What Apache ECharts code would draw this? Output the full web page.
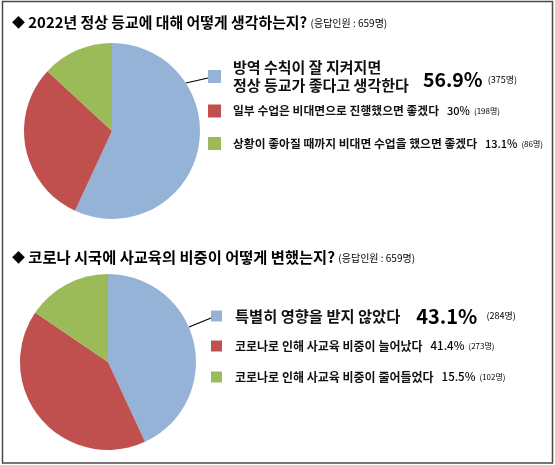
<!DOCTYPE html>
<html>
<head>
<meta charset="utf-8">
<script src="https://cdn.jsdelivr.net/npm/echarts@6/dist/echarts.min.js"></script>
<style>
  html, body { margin: 0; padding: 0; background: #fff; }
  #chart { width: 555px; height: 465px; }
</style>
</head>
<body>
<div id="chart"></div>
<script>
// ---- Data ----
const title1 = '2022년 정상 등교에 대해 어떻게 생각하는지?';
const title2 = '코로나 시국에 사교육의 비중이 어떻게 변했는지?';
const respondents = '(응답인원 : 659명)';

const categories1 = [
  '방역 수칙이 잘 지켜지면\n정상 등교가 좋다고 생각한다',
  '일부 수업은 비대면으로 진행했으면 좋겠다',
  '상황이 좋아질 때까지 비대면 수업을 했으면 좋겠다'
];
const percents1 = [56.9, 30, 13.1];
const counts1 = [375, 198, 86];

const categories2 = [
  '특별히 영향을 받지 않았다',
  '코로나로 인해 사교육 비중이 늘어났다',
  '코로나로 인해 사교육 비중이 줄어들었다'
];
const percents2 = [43.1, 41.4, 15.5];
const counts2 = [284, 273, 102];

const colors = ['#95B3D7', '#C0504D', '#9BBB59'];

// ---- Chart ----
const FONT = '"Noto Sans CJK KR", "Noto Sans", sans-serif';
const chart = echarts.init(document.getElementById('chart'), null, { renderer: 'canvas' });

function pieSeries(cats, vals, center) {
  return {
    type: 'pie',
    center: center,
    radius: 88,
    startAngle: 90,
    clockwise: true,
    silent: true,
    label: { show: false },
    labelLine: { show: false },
    itemStyle: { borderWidth: 0 },
    data: cats.map((c, i) => ({ name: c, value: vals[i], itemStyle: { color: colors[i] } }))
  };
}

function titleGraphic(text, y, size) {
  return {
    type: 'text', x: 12, y: y,
    style: {
      text: '{d|◆} {t|' + text + '} {s|' + respondents + '}',
      verticalAlign: 'middle',
      rich: {
        d: { fontFamily: FONT, fontSize: 13, fill: '#000' },
        t: { fontFamily: FONT, fontSize: size, fontWeight: 'bold', fill: '#000' },
        s: { fontFamily: FONT, fontSize: 10, fill: '#000', padding: [2, 0, 0, 0] }
      }
    }
  };
}

function legendGraphics(cats, pcts, cnts, cfg) {
  const g = [];
  cats.forEach((c, i) => {
    const yc = cfg.ys[i];
    g.push({
      type: 'rect',
      shape: { x: cfg.mx, y: yc - cfg.ms / 2, width: cfg.ms, height: cfg.ms },
      style: { fill: colors[i] }
    });
    const pct = pcts[i] + '%';
    const cnt = '(' + cnts[i] + '명)';
    if (i === 0 && cfg.firstTwoLine) {
      g.push({
        type: 'text', x: cfg.tx, y: yc,
        style: {
          text: c, fontFamily: FONT, fontSize: cfg.bigLabelSize, fontWeight: 'bold',
          fill: '#111', verticalAlign: 'middle', lineHeight: 18
        }
      });
      g.push({
        type: 'text', x: cfg.bigPctX, y: cfg.bigPctY,
        style: {
          text: '{p|' + pct + '}{c|' + cnt + '}',
          verticalAlign: 'middle',
          rich: {
            p: { fontFamily: FONT, fontSize: cfg.bigPctSize, fontWeight: 'bold', fill: '#000' },
            c: { fontFamily: FONT, fontSize: 9, fill: '#000', padding: [0, 0, 0, 5] }
          }
        }
      });
    } else {
      const big = i === 0;
      g.push({
        type: 'text', x: cfg.tx, y: yc,
        style: {
          text: '{l|' + c + '}{p|' + pct + '}{c|' + cnt + '}',
          verticalAlign: 'middle',
          rich: {
            l: { fontFamily: FONT, fontSize: big ? cfg.bigLabelSize : cfg.labelSize, fontWeight: 'bold', fill: '#111' },
            p: { fontFamily: FONT, fontSize: big ? cfg.bigPctSize : cfg.pctSize, fontWeight: big ? 'bold' : 500, fill: '#000',
                 padding: [0, 0, 0, big ? 16 : 8] },
            c: { fontFamily: FONT, fontSize: big ? 9 : 8, fill: '#000', padding: [0, 0, 0, big ? 9 : 4] }
          }
        }
      });
    }
  });
  return g;
}

const graphics = [
  {
    type: 'rect',
    shape: { x: 2.5, y: 1.5, width: 550, height: 461.5 },
    style: { fill: 'none', stroke: '#4a4a4a', lineWidth: 1.5 }
  },
  titleGraphic(title1, 22, 14.9),
  titleGraphic(title2, 257, 15.3),
  { type: 'line', shape: { x1: 186, y1: 83, x2: 208, y2: 78 }, style: { stroke: '#000', lineWidth: 1.2 } },
  { type: 'line', shape: { x1: 189, y1: 327, x2: 211, y2: 318 }, style: { stroke: '#000', lineWidth: 1.2 } }
].concat(
  legendGraphics(categories1, percents1, counts1, {
    ys: [76.5, 111, 143.5], mx: 208, ms: 13, tx: 233,
    firstTwoLine: true, bigLabelSize: 15, labelSize: 11.8, pctSize: 11,
    bigPctX: 423, bigPctY: 80, bigPctSize: 19.5
  }),
  legendGraphics(categories2, percents2, counts2, {
    ys: [316, 346, 377], mx: 211, ms: 11, tx: 235,
    firstTwoLine: false, bigLabelSize: 15.3, labelSize: 12, pctSize: 11.5, bigPctSize: 20
  })
);

chart.setOption({
  animation: false,
  backgroundColor: '#fff',
  series: [
    pieSeries(categories1, percents1, [112, 131]),
    pieSeries(categories2, percents2, [108, 362])
  ],
  graphic: graphics
});
</script>
</body>
</html>
